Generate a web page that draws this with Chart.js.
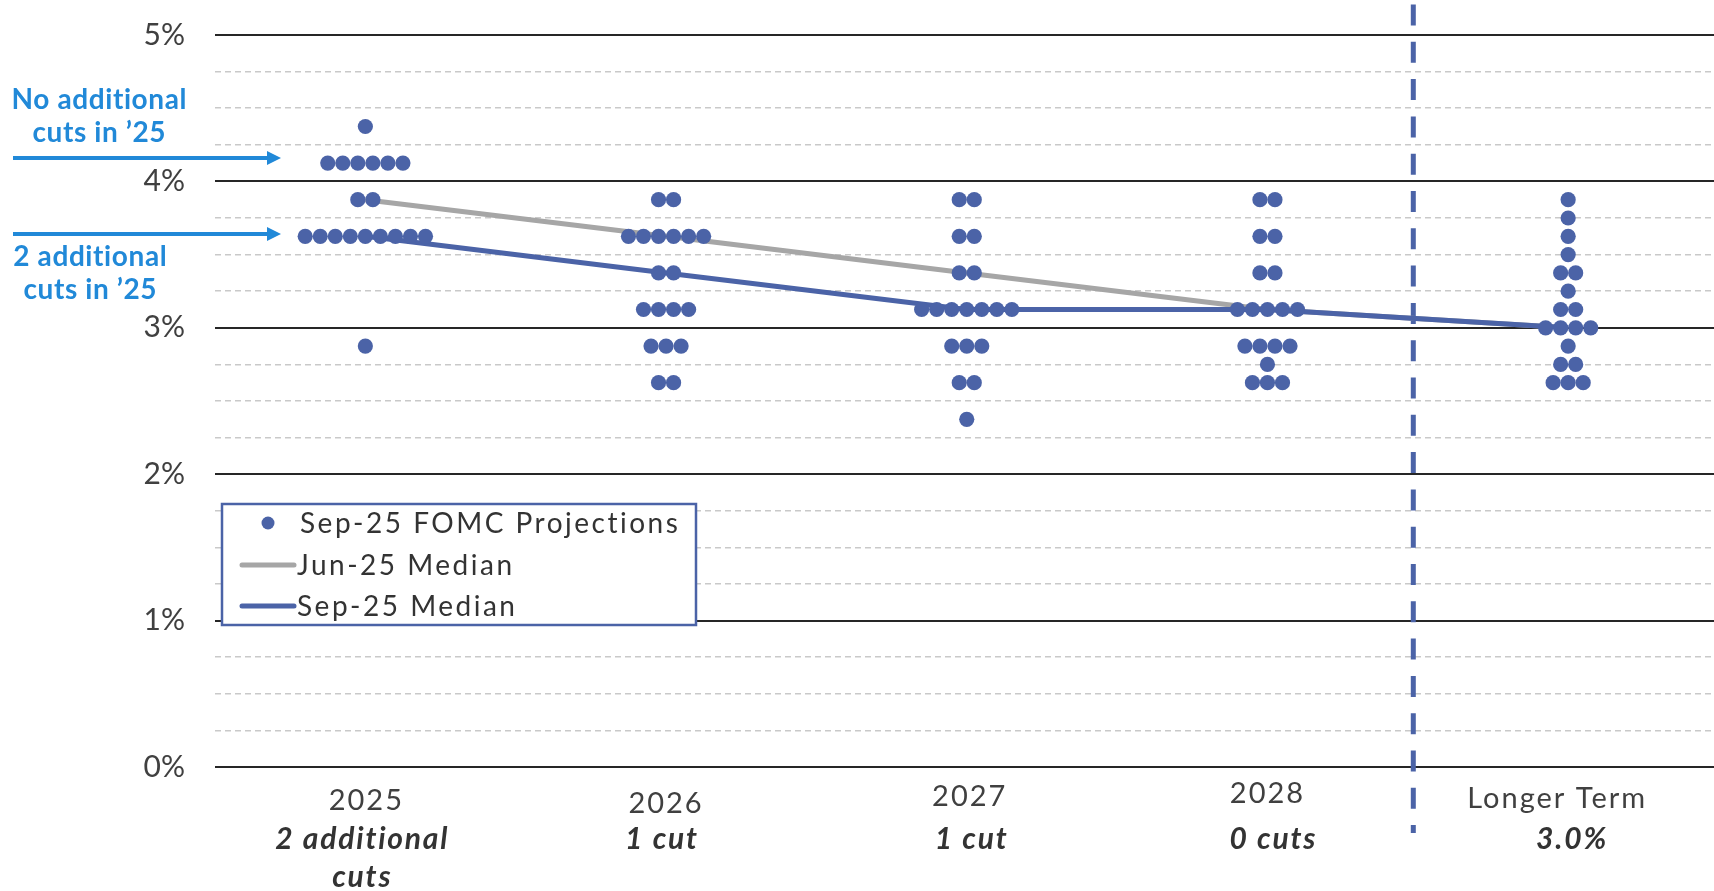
<!DOCTYPE html>
<html>
<head>
<meta charset="utf-8">
<title>FOMC Dot Plot – September 2025</title>
<script src="https://cdn.jsdelivr.net/npm/chart.js@4.4.1/dist/chart.umd.min.js"></script>
<style>
  html, body { margin: 0; padding: 0; background: #ffffff; overflow: hidden; }
  #wrap { width: 1714px; height: 891px; }
  canvas { display: block; }
</style>
</head>
<body>
<div id="wrap"><canvas id="dots" width="1714" height="891"></canvas></div>
<script>
// ---- Data -------------------------------------------------------------
const categories = ['2025', '2026', '2027', '2028', 'Longer Term'];
const cutLabels = [['2 additional', 'cuts'], ['1 cut'], ['1 cut'], ['0 cuts'], ['3.0%']];

// Each participant's projected fed funds rate (midpoint, %) per period
const proj2025 = [4.375,
  4.125, 4.125, 4.125, 4.125, 4.125, 4.125,
  3.875, 3.875,
  3.625, 3.625, 3.625, 3.625, 3.625, 3.625, 3.625, 3.625, 3.625,
  2.875];
const proj2026 = [3.875, 3.875,
  3.625, 3.625, 3.625, 3.625, 3.625, 3.625,
  3.375, 3.375,
  3.125, 3.125, 3.125, 3.125,
  2.875, 2.875, 2.875,
  2.625, 2.625];
const proj2027 = [3.875, 3.875,
  3.625, 3.625,
  3.375, 3.375,
  3.125, 3.125, 3.125, 3.125, 3.125, 3.125, 3.125,
  2.875, 2.875, 2.875,
  2.625, 2.625,
  2.375];
const proj2028 = [3.875, 3.875,
  3.625, 3.625,
  3.375, 3.375,
  3.125, 3.125, 3.125, 3.125, 3.125,
  2.875, 2.875, 2.875, 2.875,
  2.75,
  2.625, 2.625, 2.625];
const projLonger = [3.875, 3.75, 3.625, 3.5,
  3.375, 3.375,
  3.25,
  3.125, 3.125,
  3.0, 3.0, 3.0, 3.0,
  2.875,
  2.75, 2.75,
  2.625, 2.625, 2.625];
const sepProjections = [proj2025, proj2026, proj2027, proj2028, projLonger];

const junMedian = [3.875, 3.625, 3.375, 3.125, 3.0];
const sepMedian = [3.625, 3.375, 3.125, 3.125, 3.0];

const yTicks = [0, 1, 2, 3, 4, 5];

// ---- Styling ----------------------------------------------------------
const DOT_BLUE = '#4b63a7';
const GRAY_LINE = '#a6a6a6';
const NOTE_BLUE = '#2189d8';
const TEXT_DARK = '#404040';
const FONT = 'Lato, "Open Sans", sans-serif';
const DOT_STEP = 0.05;                  // horizontal spacing between dots, in category units
const yearNudge = [[0, 2], [-1, 5], [2, -2], [-1, -5], [-12, 0]]; // [dx, dy] of year captions
const cutNudgeX = [-4, -5, 4, 5, 3];    // dx of the bold captions

// Lay the dots of each period out side by side, centred on the category
function buildDots() {
  const pts = [];
  sepProjections.forEach((vals, ci) => {
    const groups = new Map();
    vals.forEach(v => groups.set(v, (groups.get(v) || 0) + 1));
    groups.forEach((n, v) => {
      for (let k = 0; k < n; k++) {
        pts.push({ x: ci + (k - (n - 1) / 2) * DOT_STEP, y: v });
      }
    });
  });
  return pts;
}
const toLine = arr => arr.map((v, i) => ({ x: i, y: v }));

// centred text with extra tracking
function spacedText(ctx, text, x, y, spacing) {
  ctx.letterSpacing = spacing + 'px';
  ctx.fillText(text, x + spacing / 2, y);
  ctx.letterSpacing = '0px';
}

// ---- Plugins ----------------------------------------------------------
const dividerPlugin = {
  id: 'divider',
  beforeDatasetsDraw(chart) {
    const { ctx, chartArea, scales } = chart;
    const x = scales.x.getPixelForValue(3.485);
    ctx.save();
    ctx.strokeStyle = DOT_BLUE;
    ctx.lineWidth = 5;
    ctx.setLineDash([21, 16.3]);
    ctx.beginPath();
    ctx.moveTo(x, chartArea.top - 30.5);
    ctx.lineTo(x, chartArea.bottom + 66);
    ctx.stroke();
    ctx.restore();
  }
};

const captionPlugin = {
  id: 'captions',
  afterDraw(chart) {
    const { ctx, chartArea, scales } = chart;
    const yScale = scales.y;
    ctx.save();
    ctx.textAlign = 'center';
    ctx.textBaseline = 'middle';

    // Category captions beneath the axis
    categories.forEach((cat, i) => {
      const x = scales.x.getPixelForValue(i);
      ctx.fillStyle = TEXT_DARK;
      ctx.font = '29px ' + FONT;
      spacedText(ctx, cat, x + yearNudge[i][0], chartArea.bottom + 32 + yearNudge[i][1], 2);
      ctx.fillStyle = '#333333';
      ctx.font = 'italic bold 30px ' + FONT;
      cutLabels[i].forEach((line, j) => {
        spacedText(ctx, line, x + cutNudgeX[i], chartArea.bottom + 72 + j * 38, 1.8);
      });
    });

    // Call-outs on the left with arrows
    const notes = [
      { lines: ['No additional', 'cuts in \u201925'], cx: 99, textY: [100, 133], arrowAt: 4.16 },
      { lines: ['2 additional', 'cuts in \u201925'], cx: 90, textY: [257, 290], arrowAt: 3.64 }
    ];
    ctx.fillStyle = NOTE_BLUE;
    ctx.strokeStyle = NOTE_BLUE;
    ctx.font = 'bold 28px ' + FONT;
    notes.forEach(n => {
      n.lines.forEach((line, j) => spacedText(ctx, line, n.cx, n.textY[j], 0.6));
      const ay = yScale.getPixelForValue(n.arrowAt);
      const x0 = 13, x1 = 281;
      ctx.lineWidth = 4;
      ctx.beginPath();
      ctx.moveTo(x0, ay);
      ctx.lineTo(x1 - 12, ay);
      ctx.stroke();
      ctx.beginPath();
      ctx.moveTo(x1, ay);
      ctx.lineTo(x1 - 14, ay - 7);
      ctx.lineTo(x1 - 14, ay + 7);
      ctx.closePath();
      ctx.fill();
    });

    // Legend box
    const box = { left: 222, top: 504, width: 474, height: 121 };
    ctx.fillStyle = '#ffffff';
    ctx.fillRect(box.left, box.top, box.width, box.height);
    ctx.strokeStyle = DOT_BLUE;
    ctx.lineWidth = 2.5;
    ctx.strokeRect(box.left, box.top, box.width, box.height);

    const ds = chart.data.datasets;
    const rows = [box.top + 19, box.top + 61, box.top + 102];
    ctx.textAlign = 'left';
    ctx.font = '28px ' + FONT;
    // dot sample
    ctx.fillStyle = DOT_BLUE;
    ctx.beginPath();
    ctx.arc(268, rows[0], 6.5, 0, Math.PI * 2);
    ctx.fill();
    // line samples
    [[1, GRAY_LINE], [2, DOT_BLUE]].forEach(([di, col]) => {
      ctx.strokeStyle = col;
      ctx.lineWidth = 5;
      ctx.lineCap = 'round';
      ctx.beginPath();
      ctx.moveTo(242, rows[di]);
      ctx.lineTo(294, rows[di]);
      ctx.stroke();
    });
    ctx.fillStyle = '#333333';
    ctx.letterSpacing = '2.5px';
    ds.forEach((d, i) => ctx.fillText(d.label, i === 0 ? 300 : 297, rows[i] + 1));
    ctx.letterSpacing = '0px';
    ctx.restore();
  }
};

// ---- Chart ------------------------------------------------------------
new Chart(document.getElementById('dots'), {
  type: 'scatter',
  data: {
    datasets: [
      {
        label: 'Sep-25 FOMC Projections',
        data: buildDots(),
        backgroundColor: DOT_BLUE,
        borderWidth: 0,
        pointRadius: 7.6,
        order: 0
      },
      {
        label: 'Jun-25 Median',
        type: 'line',
        data: toLine(junMedian),
        borderColor: GRAY_LINE,
        borderWidth: 5,
        pointRadius: 0,
        tension: 0,
        order: 2
      },
      {
        label: 'Sep-25 Median',
        type: 'line',
        data: toLine(sepMedian),
        borderColor: DOT_BLUE,
        borderWidth: 5,
        pointRadius: 0,
        tension: 0,
        order: 1
      }
    ]
  },
  options: {
    responsive: false,
    animation: false,
    devicePixelRatio: 1,
    layout: { autoPadding: false, padding: { top: 35, bottom: 124, left: 0, right: 0 } },
    plugins: {
      legend: { display: false },
      tooltip: { enabled: false }
    },
    scales: {
      x: {
        type: 'linear',
        min: -0.5,
        max: 4.485,
        display: false
      },
      y: {
        min: 0,
        max: 5,
        afterFit(scale) {
          scale.width = 215;
          scale.paddingTop = 0;
          scale.paddingBottom = 0;
        },
        ticks: {
          stepSize: 0.25,
          maxTicksLimit: 40,
          autoSkip: false,
          padding: 30,
          color: TEXT_DARK,
          font: { family: FONT, size: 30 },
          callback: v => (yTicks.includes(v) ? v + '%' : '')
        },
        grid: {
          drawTicks: false,
          color: c => (c.tick && c.tick.value % 1 === 0 ? '#262626' : '#c9c9c9'),
          lineWidth: c => (c.tick && c.tick.value % 1 === 0 ? 2 : 1.5)
        },
        border: {
          display: false,
          dash: c => (c.tick && c.tick.value % 1 !== 0 ? [6, 4] : [])
        }
      }
    }
  },
  plugins: [dividerPlugin, captionPlugin]
});
</script>
</body>
</html>
